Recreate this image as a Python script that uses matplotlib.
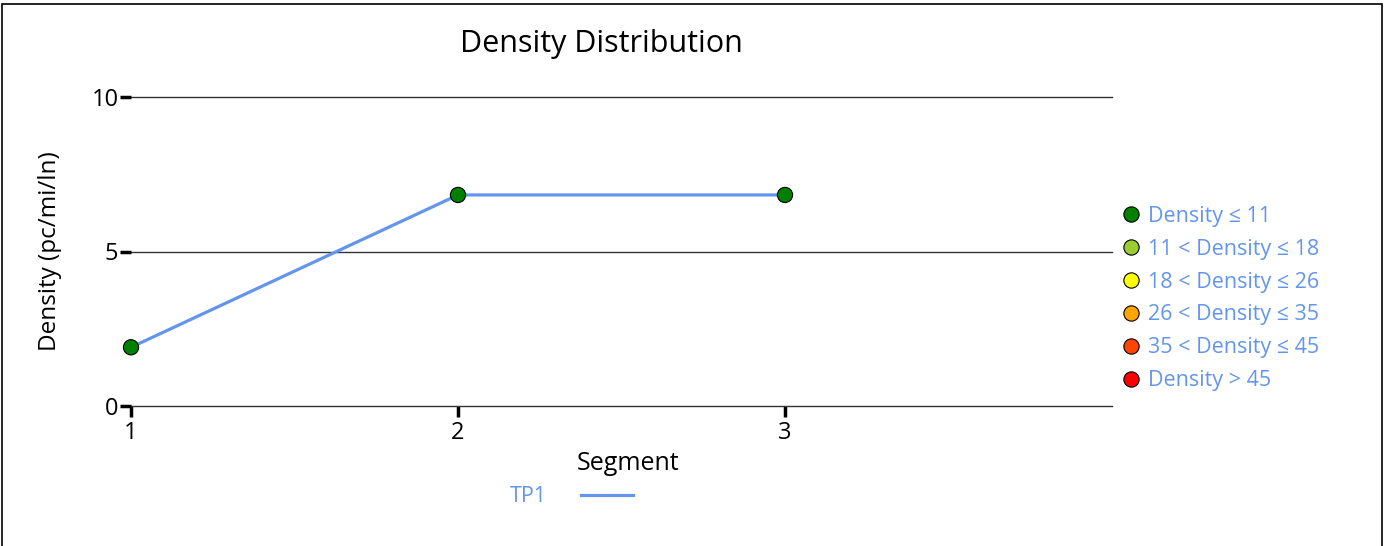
import matplotlib.pyplot as plt
from matplotlib.lines import Line2D
from matplotlib.patches import Rectangle

plt.rcParams['font.family'] = ['Open Sans', 'DejaVu Sans']

segments = [1, 2, 3]
density = [1.9, 6.83, 6.83]
point_colors = ['#008000', '#008000', '#008000']

bins = ['Density ≤ 11', '11 < Density ≤ 18', '18 < Density ≤ 26',
        '26 < Density ≤ 35', '35 < Density ≤ 45', 'Density > 45']
bin_colors = ['#008000', '#9ACD32', '#FFFF00', '#FFA500', '#FF4500', '#FF0000']

fig = plt.figure(figsize=(13.84, 5.46), dpi=100)
ax = fig.add_axes([131 / 1384, 1 - 406 / 546, 981 / 1384, 309 / 546])

line, = ax.plot(segments, density, color='#6495ED', lw=2.3, zorder=2)
ax.scatter(segments, density, s=120, c=point_colors, edgecolors='black',
           linewidths=0.8, zorder=3, clip_on=False)

ax.set_xlim(1, 4)
ax.set_ylim(0, 10)
ax.set_xticks([1, 2, 3])
ax.set_yticks([0, 5, 10])
ax.grid(axis='y', color='#333333', lw=1)
for gl in ax.get_ygridlines():
    gl.set_clip_on(False)
ax.set_axisbelow(True)
for s in ax.spines.values():
    s.set_visible(False)
ax.tick_params(length=8, width=2.5, labelsize=17, pad=1, colors='black')
ax.tick_params(axis='x', pad=3)

ax.set_xlabel('Segment', fontsize=18)
ax.xaxis.set_label_coords(0.5066, -0.145)
ax.set_ylabel('Density (pc/mi/ln)', fontsize=17.5, labelpad=21)
fig.text(601 / 1384, 1 - 44 / 546, 'Density Distribution', fontsize=22,
         ha='center', va='center')

handles = [Line2D([], [], ls='none', marker='o', markersize=11,
                  markerfacecolor=c, markeredgecolor='black', markeredgewidth=0.8)
           for c in bin_colors]
leg = fig.legend(handles, bins, loc='center left',
                 bbox_to_anchor=(1100 / 1384, 1 - 298.5 / 546), frameon=False,
                 fontsize=15.5, handletextpad=0.25, labelspacing=0.55,
                 handlelength=1.1)
for t in leg.get_texts():
    t.set_color('#6495ED')

leg2 = fig.legend([Line2D([], [], color='#6495ED', lw=2.3)], ['TP1'],
                  loc='center', bbox_to_anchor=(571 / 1384, 1 - 497 / 546),
                  frameon=False, fontsize=15.5, markerfirst=False,
                  handlelength=2.4, handletextpad=1.6)
for t in leg2.get_texts():
    t.set_color('#6495ED')

fig.patches.append(Rectangle((0.0015, -0.01), 0.997, 1 - 4 / 546 + 0.01,
                             transform=fig.transFigure, fill=False,
                             edgecolor='black', lw=1.2))

fig.savefig('out.png', dpi=100)
